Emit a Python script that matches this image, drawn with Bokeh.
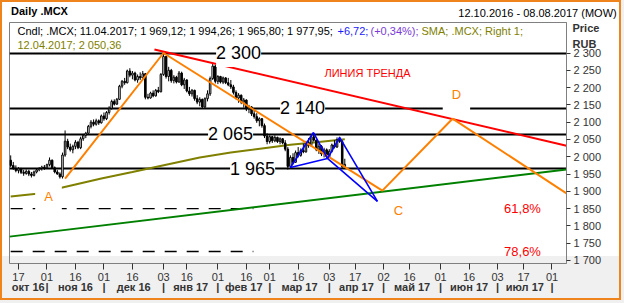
import numpy as np
import pandas as pd
from bokeh.plotting import figure
from bokeh.models import LinearAxis, FixedTicker, Label, Range1d
from bokeh.embed import file_html
from bokeh.resources import INLINE

# ---------------- data ----------------
START, END = "2016-10-12", "2017-08-08"

opens = [1990, 1975, 1966, 1960, 1965, 1955, 1952, 1958, 1950, 1946,
         1956, 1962, 1966, 1970, 1968, 1977, 1990, 1968, 1956, 1950,
         1942, 2005, 2045, 2028, 2020, 2030, 2042, 2026, 2052, 2062,
         2068, 2088, 2100, 2094, 2104, 2098, 2118, 2110, 2128, 2140,
         2160, 2152, 2166, 2204, 2218, 2214, 2248, 2236, 2242, 2222,
         2232, 2228, 2240, 2172, 2170, 2184, 2176, 2192, 2188, 2238,
         2290, 2232, 2250, 2220, 2230, 2216, 2242, 2208, 2222, 2190,
         2182, 2192, 2168, 2158, 2166, 2144, 2168, 2182, 2226, 2262,
         2218, 2232, 2216, 2228, 2214, 2208, 2202, 2186, 2170, 2178,
         2158, 2164, 2138, 2144, 2124, 2116, 2104, 2110, 2090, 2060,
         2044, 2058, 2046, 2056, 2044, 2052, 2040, 2022, 1972, 1998,
         1984, 2012, 2004, 2018, 2014, 2040, 2032, 2058, 2048, 2020,
         2030, 2008, 2020, 2000, 2016, 2034, 2028, 2050, 2044, 1969.12]
highs = [2004, 1985, 1975, 1970, 1968, 1962, 1963, 1962, 1956, 1960,
         1966, 1970, 1974, 1976, 1980, 1998, 1992, 1972, 1962, 1955,
         2012, 2076, 2052, 2038, 2035, 2048, 2046, 2058, 2066, 2072,
         2092, 2106, 2108, 2110, 2108, 2122, 2128, 2132, 2146, 2165,
         2166, 2170, 2208, 2222, 2228, 2252, 2256, 2248, 2246, 2238,
         2244, 2248, 2242, 2182, 2188, 2192, 2196, 2202, 2242, 2300,
         2292, 2260, 2254, 2236, 2234, 2248, 2246, 2228, 2224, 2202,
         2196, 2194, 2178, 2172, 2168, 2172, 2192, 2232, 2272, 2266,
         2236, 2234, 2232, 2230, 2228, 2222, 2208, 2192, 2184, 2180,
         2170, 2166, 2150, 2146, 2136, 2126, 2114, 2112, 2096, 2068,
         2062, 2060, 2062, 2058, 2056, 2054, 2048, 2028, 2004, 2010,
         2018, 2028, 2024, 2038, 2046, 2054, 2062, 2068, 2050, 2038,
         2034, 2026, 2024, 2022, 2038, 2048, 2056, 2058, 2048, 1994.26]
lows = [1970, 1962, 1955, 1952, 1950, 1945, 1948, 1944, 1940, 1943,
        1952, 1958, 1960, 1962, 1965, 1972, 1965, 1952, 1948, 1937,
        1937, 2000, 2022, 2015, 2010, 2022, 2022, 2022, 2046, 2054,
        2064, 2082, 2088, 2090, 2092, 2096, 2104, 2106, 2122, 2136,
        2148, 2150, 2164, 2198, 2208, 2212, 2230, 2224, 2218, 2214,
        2222, 2226, 2166, 2166, 2168, 2172, 2174, 2184, 2186, 2234,
        2226, 2218, 2214, 2212, 2212, 2214, 2204, 2196, 2186, 2176,
        2174, 2162, 2152, 2146, 2138, 2140, 2160, 2176, 2222, 2212,
        2210, 2212, 2210, 2210, 2204, 2196, 2180, 2166, 2156, 2152,
        2142, 2132, 2126, 2118, 2110, 2098, 2088, 2084, 2054, 2036,
        2038, 2040, 2042, 2040, 2036, 2036, 2016, 1963, 1966, 1978,
        1982, 1998, 2000, 2010, 2012, 2026, 2030, 2044, 2016, 2008,
        2002, 1998, 1994, 1996, 2012, 2024, 2026, 2040, 1968, 1965.80]
closes = [1975, 1966, 1960, 1965, 1955, 1952, 1958, 1950, 1946, 1956,
          1962, 1966, 1970, 1968, 1977, 1990, 1968, 1956, 1950, 1942,
          2005, 2045, 2028, 2020, 2030, 2042, 2026, 2052, 2062, 2068,
          2088, 2100, 2094, 2104, 2098, 2118, 2110, 2128, 2140, 2160,
          2152, 2166, 2204, 2218, 2214, 2248, 2236, 2242, 2222, 2232,
          2228, 2240, 2172, 2170, 2184, 2176, 2192, 2188, 2238, 2290,
          2232, 2250, 2220, 2230, 2216, 2242, 2208, 2222, 2190, 2182,
          2192, 2168, 2158, 2166, 2144, 2168, 2182, 2226, 2262, 2218,
          2232, 2216, 2228, 2214, 2208, 2202, 2186, 2170, 2178, 2158,
          2164, 2138, 2144, 2124, 2116, 2104, 2110, 2090, 2060, 2044,
          2058, 2046, 2056, 2044, 2052, 2040, 2022, 1972, 1998, 1984,
          2012, 2004, 2018, 2014, 2040, 2032, 2058, 2048, 2020, 2030,
          2008, 2020, 2000, 2016, 2034, 2028, 2050, 2044, 1971.23, 1977.95]

sma_idx = [0, 10, 20, 35, 47, 60, 73, 85, 97, 108, 118, 129]
sma_val = [1885, 1893, 1911, 1937, 1956, 1977, 1998, 2012, 2024, 2035, 2042, 2050.36]

levels = [2300, 2140, 2065, 1965]
level_text = ["2 300", "2 140", "2 065", "1 965"]
level_text_idx = [88, 112.7, 84.9, 93.4]

fib_levels = [1850, 1726]
fib_text = ["61,8%", "78,6%"]
fib_end_idx = 93.7

trend_red_idx = [55.5, 214.6]
trend_red_val = [2310, 2032]
green_idx = [-0.46, 214.6]
green_val = [1769, 1963]
abcd_idx = [21, 59, 143.5, 170.6, 214.6]
abcd_val = [1937, 2300, 1902, 2110, 1894]
abcd_names = ["A", "C", "D"]
abcd_name_idx = [14.6, 149.7, 172.1]
abcd_name_val = [1885, 1845, 2180]
blue_idx = [108.0, 116.9, 122.3, 127.0, 141.6]
blue_val = [1969, 2070, 1995, 2056, 1871]

day_tick_dates = ["2016-10-17", "2016-11-01", "2016-11-16", "2016-12-01", "2016-12-16",
                  "2017-01-03", "2017-01-16", "2017-02-01", "2017-02-16", "2017-03-01",
                  "2017-03-16", "2017-04-03", "2017-04-17", "2017-05-02", "2017-05-16",
                  "2017-06-01", "2017-06-16", "2017-07-03", "2017-07-17", "2017-08-01"]
month_start_dates = ["2016-11-01", "2016-12-01", "2017-01-03", "2017-02-01", "2017-03-01",
                     "2017-04-03", "2017-05-02", "2017-06-01", "2017-07-03", "2017-08-01"]
month_names = ["окт 16", "ноя 16", "дек 16", "янв 17", "фев 17", "мар 17",
               "апр 17", "май 17", "июн 17", "июл 17"]
price_ticks = list(range(1700, 2301, 50))

title_text = "Daily .MCX"
period_text = "12.10.2016 - 08.08.2017 (MOW)"
unit_texts = ["Price", "RUB"]

last_close = 1977.95
sma_last = 2050.36

# ---------------- layout ----------------
W, H = 621, 300
FL, FR, FT, FB = 9, 566, 22, 263
X0, X1 = -0.46, 214.6
Y0, Y1 = 1691.3, 2388.2

def sx(px):
    return X0 + (px - FL) * (X1 - X0) / (FR - FL)

def sy(py):
    return Y1 - (py - FT) * (Y1 - Y0) / (FB - FT)

days = pd.bdate_range(START, END)
pos = {d.strftime("%Y-%m-%d"): i for i, d in enumerate(days)}

FONT = "Liberation Sans"

p = figure(width=W, height=H, output_backend="svg", toolbar_location=None,
           x_range=Range1d(X0, X1), y_range=Range1d(Y0, Y1),
           x_axis_location=None, y_axis_location=None,
           min_border_left=FL, min_border_right=W - FR,
           min_border_top=FT, min_border_bottom=H - FB)
p.grid.visible = False
p.border_fill_alpha = 0
p.background_fill_alpha = 0
p.outline_line_color = "#808080"
p.outline_line_width = 1
p.styles = {
    "background": "linear-gradient(to bottom, #ffffff 0px, #ffffff 256px, #f0f0f0 256px, #f0f0f0 100%)",
    "box-shadow": "inset 0 0 0 2px #f0841c",
}

def text_axis(ticks, labels, standoff, bold=False, color="black"):
    ax = LinearAxis(ticker=FixedTicker(ticks=ticks),
                    major_label_overrides=dict(zip(ticks, labels)))
    ax.axis_line_color = None
    ax.major_tick_line_color = None
    ax.minor_tick_line_color = None
    ax.major_tick_in = 0
    ax.major_tick_out = 0
    ax.major_label_standoff = standoff
    ax.major_label_text_font = FONT
    ax.major_label_text_font_size = "11px"
    ax.major_label_text_font_style = "bold" if bold else "normal"
    ax.major_label_text_color = color
    return ax

# bottom axes: day numbers, then month names with separators
day_ticks = [pos[d] for d in day_tick_dates]
xa = LinearAxis(ticker=FixedTicker(ticks=day_ticks),
                major_label_overrides={pos[d]: d[-2:] for d in day_tick_dates})
xa.axis_line_color = None
xa.major_tick_in = 0
xa.major_tick_out = 6
xa.major_tick_line_color = "#333333"
xa.minor_tick_line_color = None
xa.major_label_standoff = 3
xa.major_label_text_font = FONT
xa.major_label_text_font_size = "11px"
xa.major_label_text_color = "#333333"
p.add_layout(xa, "below")

seps = [pos[d] for d in month_start_dates]
bounds = [X0] + seps
mids = [round((bounds[i] + bounds[i + 1]) / 2, 2) for i in range(len(month_names))]
p.add_layout(text_axis(mids + [float(s) for s in seps],
                       month_names + ["|"] * len(seps), -3, bold=True, color="#333333"), "below")

# right price axis
ya = LinearAxis(ticker=FixedTicker(ticks=price_ticks),
                major_label_overrides={v: f"{v // 1000} {v % 1000:03d}" for v in price_ticks})
ya.axis_line_color = "#808080"
ya.major_tick_in = 0
ya.major_tick_out = 4
ya.major_tick_line_color = "#333333"
ya.minor_tick_line_color = None
ya.major_label_standoff = 3
ya.major_label_text_font = FONT
ya.major_label_text_font_size = "11px"
ya.major_label_text_color = "#333333"
p.add_layout(ya, "right")
# "Price / RUB" caption above the price labels (second right axis pulled back over the first)
p.add_layout(text_axis([round(sy(28), 3), round(sy(43), 3)], unit_texts, -32,
                       bold=True, color="#333333"), "right")

# header row (two axes above; the second is pulled down onto the same row)
p.add_layout(text_axis([round(sx(537), 3)], [period_text], 4), "above")
p.add_layout(text_axis([round(sx(39), 3)], [title_text], -13, bold=True), "above")

# levels
p.hspan(y=levels, line_color="black", line_width=2)
for lv in fib_levels:
    p.line([0, fib_end_idx], [lv, lv], line_color="black", line_width=1.3, line_dash="12 10")

# SMA
p.line(sma_idx, sma_val, line_color="#808000", line_width=2)
# green support
p.line(green_idx, green_val, line_color="#008000", line_width=2)

# candles
x = np.arange(len(closes))
o = np.array(opens, float); c = np.array(closes, float)
up = c >= o
p.segment(x, highs, x, lows, line_color="black", line_width=1)
p.vbar(x[up], width=0.6, top=c[up], bottom=o[up], fill_color="white", line_color="black", line_width=1)
p.vbar(x[~up], width=0.6, top=o[~up], bottom=c[~up], fill_color="black", line_color="black", line_width=1)

# trend lines
p.line(trend_red_idx, trend_red_val, line_color="#ff0000", line_width=2)
p.line(abcd_idx, abcd_val, line_color="#ff8000", line_width=2)
p.multi_line([blue_idx, [blue_idx[0], blue_idx[2], blue_idx[4]]],
             [blue_val, [blue_val[0], blue_val[2], blue_val[4]]],
             line_color="#0000ff", line_width=1.6)

# texts on chart
for lv, t, xi in zip(levels, level_text, level_text_idx):
    p.add_layout(Label(x=xi, y=lv, text=t, text_align="center", text_baseline="middle",
                       text_font=FONT, text_font_size="18px", text_color="black",
                       background_fill_color="white", padding=(0, 4)))
for lv, t in zip(fib_levels, fib_text):
    p.add_layout(Label(x=sx(522), y=lv, text=t, text_align="center", text_baseline="middle",
                       text_font=FONT, text_font_size="13px", text_color="#ff0000"))
for t, xi, yv in zip(abcd_names, abcd_name_idx, abcd_name_val):
    p.add_layout(Label(x=xi, y=yv, text=t, text_align="center", text_baseline="middle",
                       text_font=FONT, text_font_size="13px", text_color="#ff8000",
                       background_fill_color="white", padding=9))
p.add_layout(Label(x=sx(367), y=sy(72), text="ЛИНИЯ ТРЕНДА", text_align="center",
                   text_baseline="middle", text_font=FONT, text_font_size="11px",
                   text_color="#ff0000"))

# legend rows inside the frame (screen units from the frame's lower-left corner)
def hdr(px, py, text, color="black"):
    p.add_layout(Label(x=px - FL, y=FB - py, x_units="screen", y_units="screen", text=text,
                       text_align="left", text_baseline="middle",
                       text_font=FONT, text_font_size="11px", text_color=color))

hdr(17, 30, "Cndl; .MCX; 11.04.2017; 1 969,12; 1 994,26; 1 965,80; 1 977,95;")
hdr(337, 30, "+6,72;", color="#1a1aff")
hdr(370, 30, "(+0,34%);", color="#7a3ad8")
hdr(421, 30, "SMA; .MCX; Right 1;", color="#808000")
hdr(17, 44, "12.04.2017; 2 050,36", color="#808000")

# price markers
p.add_layout(Label(x=567 - FL, x_units="screen", y=sma_last, text="2 050,36", text_align="left",
                   text_baseline="middle", text_font=FONT, text_font_size="12px",
                   text_color="white", background_fill_color="#808000", padding=(0, 4)))
p.add_layout(Label(x=567 - FL, x_units="screen", y=last_close, text="1 977,95", text_align="left",
                   text_baseline="middle", text_font=FONT, text_font_size="12px",
                   text_font_style="bold", text_color="white",
                   background_fill_color="black", padding=(0, 3)))

html = file_html(p, INLINE)
html = html.replace("<head>", "<head><style>body{background:#f0f0f0;}</style>", 1)
open("out.html", "w").write(html)
